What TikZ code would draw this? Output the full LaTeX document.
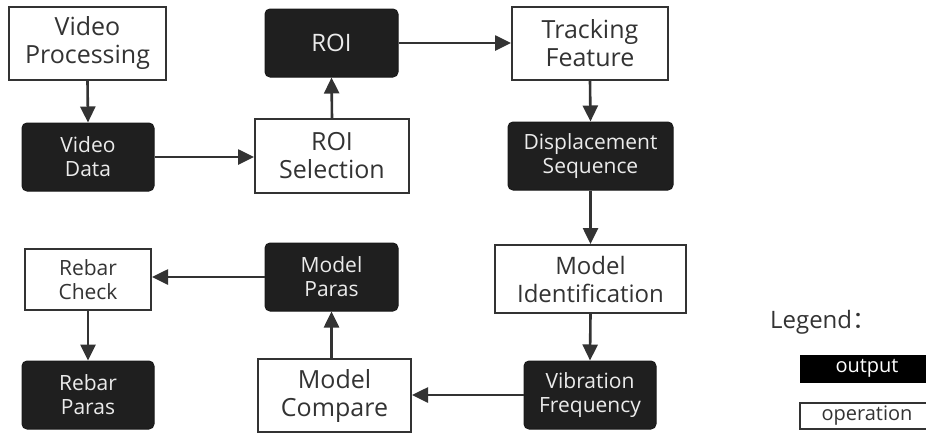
\documentclass[tikz,border=0pt]{standalone}
\usepackage{fontspec}
\setmainfont{Open Sans}
\newfontfamily\cjkfont{Noto Sans CJK SC}
\usetikzlibrary{arrows.meta}
\begin{document}
\begin{tikzpicture}[x=1pt,y=-1pt,
  op/.style={draw=black!80, line width=2pt, fill=white, text=black!80, align=center, inner sep=0pt,
    font=\fontsize{25}{28}\selectfont},
  outbox/.style={draw=black!90, line width=1pt, fill=black!88, rounded corners=5pt, text=white!92!black, align=center, inner sep=0pt,
    font=\fontsize{21}{24}\selectfont},
  arr/.style={draw=black!80, line width=2.6pt, -{Triangle[length=16pt,width=15pt]}}]
\useasboundingbox (0,0) rectangle (926,434);
% row 1
\node[op, minimum width=157pt, minimum height=73pt] (vp) at (87.5,43.5) {Video\\Processing};
\node[outbox, minimum width=133pt, minimum height=68pt, font=\fontsize{24}{28}\selectfont] (roi) at (331.5,43) {ROI};
\node[op, minimum width=156pt, minimum height=73pt] (tf) at (590,43.5) {Tracking\\Feature};
% row 2
\node[outbox, minimum width=132pt, minimum height=68pt] (vd) at (88,157) {Video\\Data};
\node[op, minimum width=154pt, minimum height=74pt] (rs) at (332,156) {ROI\\Selection};
\node[outbox, minimum width=165pt, minimum height=68pt] (ds) at (590.5,156) {Displacement\\Sequence};
% row 3
\node[op, minimum width=126pt, minimum height=61pt, font=\fontsize{21}{24}\selectfont] (rc) at (88,279.5) {Rebar\\Check};
\node[outbox, minimum width=133pt, minimum height=68pt] (mp) at (331.5,277) {Model\\Paras};
\node[op, minimum width=191pt, minimum height=68pt, font=\fontsize{24}{28}\selectfont] (mi) at (590.5,279) {Model\\Identification};
% row 4
\node[outbox, minimum width=132pt, minimum height=68pt] (rp) at (88,395) {Rebar\\Paras};
\node[op, minimum width=153pt, minimum height=73pt] (mc) at (334.5,395.5) {Model\\Compare};
\node[outbox, minimum width=132pt, minimum height=68pt] (vf) at (590,395) {Vibration\\Frequency};
% connectors
\draw[arr] (vp.south) -- (vd.north);
\draw[arr] (vd.east) -- (vd.east -| rs.west);
\draw[arr] (rs.north) -- (roi.south);
\draw[arr] (roi.east) -- (roi.east -| tf.west);
\draw[arr] (tf.south) -- (ds.north);
\draw[arr] (ds.south) -- (mi.north);
\draw[arr] (mi.south) -- (vf.north);
\draw[arr] (vf.west) -- (vf.west -| mc.east);
\draw[arr] (mc.north -| mp.south) -- (mp.south);
\draw[arr] (mp.west) -- (mp.west -| rc.east);
\draw[arr] (rc.south) -- (rp.north);
% legend
\node[anchor=base west, inner sep=0pt, text=black!80, font=\fontsize{24}{28}\selectfont] (lg) at (770,328) {Legend{\cjkfont ：}};
\node[draw=black, fill=black, text=white, inner sep=0pt, minimum width=134pt, minimum height=27pt,
  font=\fontsize{20}{24}\selectfont] (lo) at (867,368.5) {output};
\node[draw=black!80, line width=1.4pt, fill=white, text=black!80, inner sep=0pt, minimum width=134pt, minimum height=26pt,
  font=\fontsize{20}{24}\selectfont] (lp) at (867,416) {operation};
\end{tikzpicture}
\end{document}
